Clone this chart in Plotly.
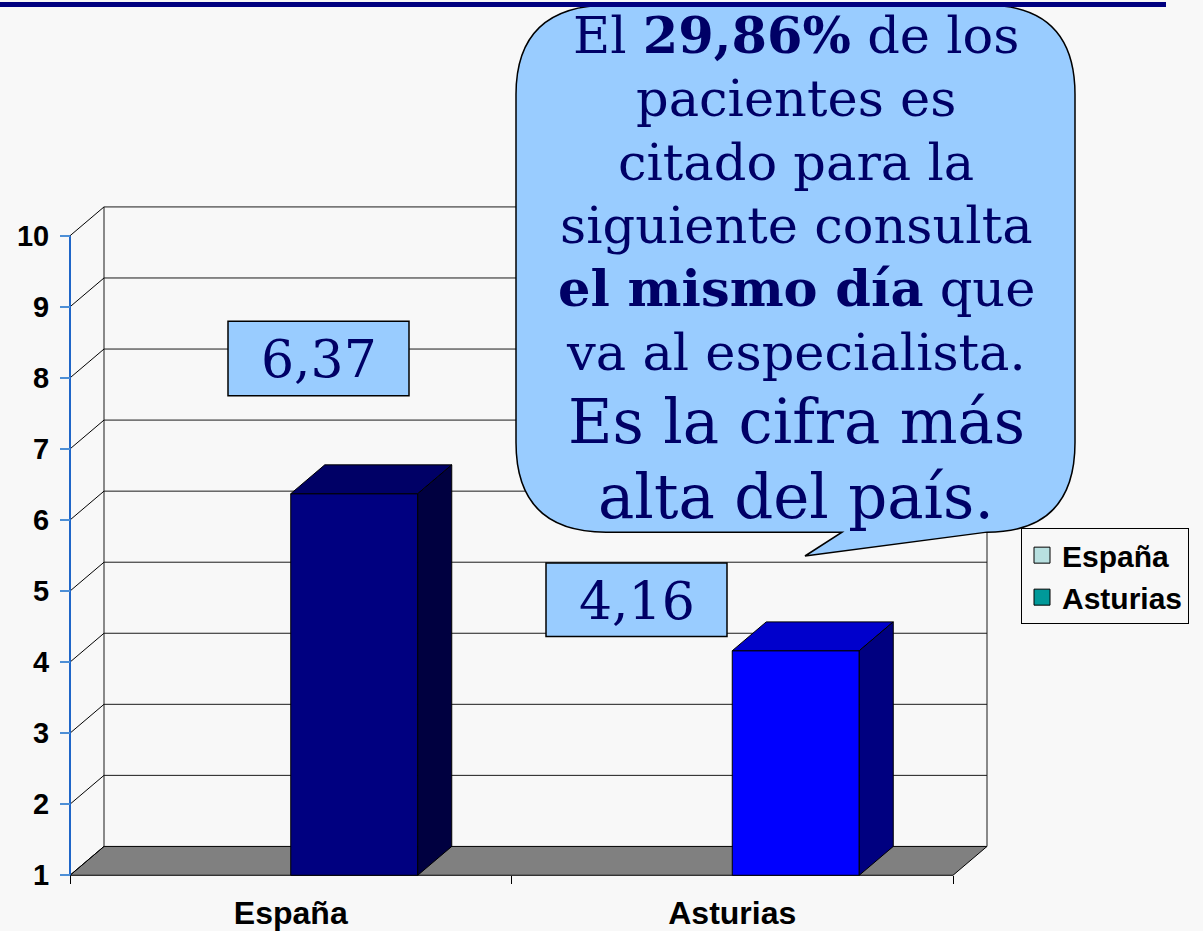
import plotly.graph_objects as go

# ---------------- data ----------------
categories = ["España", "Asturias"]
values = [6.37, 4.16]
front_colors = ["#000080", "#0000FF"]
top_colors = ["#000066", "#0000CC"]
side_colors = ["#000040", "#000080"]
y_tick_values = [1, 2, 3, 4, 5, 6, 7, 8, 9, 10]
legend_names = ["España", "Asturias"]
legend_colors = ["#B8E0E0", "#009999"]
callout_lines = [
    "El <b>29,86%</b> de los",
    "pacientes es",
    "citado para la",
    "siguiente consulta",
    "<b>el mismo día</b> que",
    "va al especialista.",
    "Es la cifra más",
    "alta del país.",
]
callout_sizes = [51, 51, 51, 51, 51, 51, 61, 61]

# ---------------- geometry (pixels) ----------------
W, H = 1203, 931
AX_X, AX_Y = 70, 880          # pixel of the front axis origin (x=-0.5, y=1)
CAT_PX, UNIT_PX = 441.5, 71.44
DX_PX, DY_PX = 34, 29         # depth offset of the 3-D box
PLOT_L, PLOT_R, PLOT_T, PLOT_B = 40, 1010, 180, 905

x_range = [-0.5 - (AX_X - PLOT_L) / CAT_PX, -0.5 + (PLOT_R - AX_X) / CAT_PX]
y_range = [1 - (PLOT_B - AX_Y) / UNIT_PX, 1 + (AX_Y - PLOT_T) / UNIT_PX]
dxu = DX_PX / CAT_PX
dyu = DY_PX / UNIT_PX
bar_w = 127 / CAT_PX
xl, xr = -0.5, len(categories) - 0.5
ymin, ymax = y_tick_values[0], y_tick_values[-1]

def px(x):
    return x / W

def py(y):
    return 1 - y / H

fig = go.Figure()

# floor
fig.add_trace(go.Scatter(
    x=[xl, xl + dxu, xr + dxu, xr, xl],
    y=[ymin, ymin + dyu, ymin + dyu, ymin, ymin],
    fill="toself", fillcolor="#808080", mode="lines",
    line=dict(color="black", width=1), hoverinfo="skip", showlegend=False))

# back wall gridlines
gx, gy = [], []
for k in y_tick_values[1:]:
    gx += [xl + dxu, xr + dxu, None]
    gy += [k + dyu, k + dyu, None]
# back wall verticals
gx += [xl + dxu, xl + dxu, None, xr + dxu, xr + dxu, None]
gy += [ymin + dyu, ymax + dyu, None, ymin + dyu, ymax + dyu, None]
fig.add_trace(go.Scatter(x=gx, y=gy, mode="lines",
                         line=dict(color="#1a1a1a", width=1),
                         hoverinfo="skip", showlegend=False))

# side wall diagonals
sx, sy = [], []
for k in y_tick_values:
    sx += [xl, xl + dxu, None]
    sy += [k, k + dyu, None]
fig.add_trace(go.Scatter(x=sx, y=sy, mode="lines",
                         line=dict(color="black", width=1),
                         hoverinfo="skip", showlegend=False))

# 3-D bars
for i, (cat, v) in enumerate(zip(categories, values)):
    x0, x1 = i, i + bar_w
    faces = [
        ([x0, x0, x1, x1, x0], [ymin, v, v, ymin, ymin], front_colors[i]),
        ([x0, x1, x1 + dxu, x0 + dxu, x0], [v, v, v + dyu, v + dyu, v], top_colors[i]),
        ([x1, x1 + dxu, x1 + dxu, x1, x1], [ymin, ymin + dyu, v + dyu, v, ymin], side_colors[i]),
    ]
    for fx, fy, c in faces:
        fig.add_trace(go.Scatter(
            x=fx, y=fy, fill="toself", fillcolor=c, mode="lines",
            line=dict(color="black", width=1), name=cat,
            hoverinfo="skip", showlegend=False))

# front value axis line
fig.add_trace(go.Scatter(x=[xl, xl], y=[ymin, ymax], mode="lines",
                         line=dict(color="#1F66C8", width=2),
                         hoverinfo="skip", showlegend=False))

# legend entries
for name, c in zip(legend_names, legend_colors):
    fig.add_trace(go.Scatter(
        x=[None], y=[None], mode="markers", name=name,
        marker=dict(symbol="square", size=16, color=c,
                    line=dict(color="black", width=1))))

# ---------------- shapes ----------------
def P(x, y):
    return f"{px(x):.5f},{py(y):.5f}"

bubble = (
    f"M {P(610, 5)} L {P(985, 5)} Q {P(1075, 5)} {P(1075, 95)} "
    f"L {P(1075, 445)} Q {P(1075, 535)} {P(987, 535)} "
    f"L {P(805, 559)} L {P(842, 535)} L {P(606, 535)} "
    f"Q {P(516, 535)} {P(516, 445)} L {P(516, 95)} Q {P(516, 5)} {P(610, 5)} Z"
)
shapes = [
    dict(type="path", path=bubble, xref="paper", yref="paper",
         fillcolor="#99CCFF", line=dict(color="black", width=1.5), layer="above"),
    dict(type="rect", xref="paper", yref="paper",
         x0=px(228), x1=px(409), y0=py(398), y1=py(323),
         fillcolor="#99CCFF", line=dict(color="black", width=1.5), layer="above"),
    dict(type="rect", xref="paper", yref="paper",
         x0=px(546), x1=px(727), y0=py(640), y1=py(566),
         fillcolor="#99CCFF", line=dict(color="black", width=1.5), layer="above"),
    dict(type="rect", xref="paper", yref="paper",
         x0=0, x1=px(1166), y0=py(7), y1=py(2),
         fillcolor="#000080", line=dict(width=0), layer="above"),
]

annotations = []
line_centers = [35, 99, 163, 227, 290, 354, 424, 499]
for txt, sz, yc in zip(callout_lines, callout_sizes, line_centers):
    annotations.append(dict(
        x=px(796), y=py(yc), xref="paper", yref="paper", text=txt,
        showarrow=False, xanchor="center", yanchor="middle",
        font=dict(family="DejaVu Serif", size=sz, color="#000066")))

label_pos = [(318.5, 361), (636.5, 604)]
for v, (lx, ly) in zip(values, label_pos):
    annotations.append(dict(
        x=px(lx), y=py(ly), xref="paper", yref="paper",
        text=f"{v:.2f}".replace(".", ","), showarrow=False,
        xanchor="center", yanchor="middle",
        font=dict(family="DejaVu Serif", size=52, color="#000066")))

fig.update_layout(
    width=W, height=H,
    margin=dict(l=0, r=0, t=0, b=0),
    paper_bgcolor="#F8F8F8", plot_bgcolor="rgba(0,0,0,0)",
    font=dict(family="Liberation Sans, Arial", color="black"),
    xaxis=dict(
        domain=[px(PLOT_L), px(PLOT_R)], range=x_range,
        anchor="free", position=py(AX_Y),
        tickmode="array", tickvals=list(range(len(categories))), ticktext=categories,
        ticks="", showgrid=False, zeroline=False, showline=False,
        tickfont=dict(size=32, weight="bold", color="black"),
        ticklabelstandoff=16,
        minor=dict(tickmode="array", tickvals=[xl + j for j in range(len(categories) + 1)],
                   ticks="outside", ticklen=8, tickcolor="black", tickwidth=1,
                   showgrid=False),
        fixedrange=True,
    ),
    yaxis=dict(
        domain=[py(PLOT_B), py(PLOT_T)], range=y_range,
        anchor="free", position=px(AX_X),
        tickmode="array", tickvals=y_tick_values,
        ticks="outside", ticklen=10, tickcolor="#4D8FD6", tickwidth=1.5,
        showgrid=False, zeroline=False, showline=False,
        tickfont=dict(size=29, weight="bold", color="black"),
        ticklabelstandoff=5,
        fixedrange=True,
    ),
    legend=dict(
        x=px(1021), y=py(531), xanchor="left", yanchor="top",
        bgcolor="#F8F8F8", bordercolor="black", borderwidth=1,
        font=dict(size=30, weight="bold", color="black"),
        itemwidth=30, tracegroupgap=0,
    ),
    showlegend=True,
    shapes=shapes,
    annotations=annotations,
)

fig.write_html(
    "out.html",
    config={"displayModeBar": False},
    post_script="document.body.style.margin='0';document.body.style.overflow='hidden';",
)
